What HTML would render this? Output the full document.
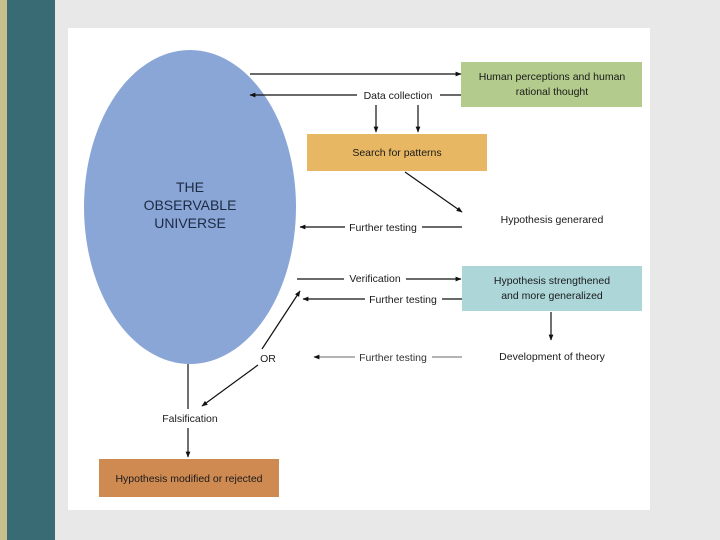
<!DOCTYPE html>
<html><head><meta charset="utf-8"><style>
html,body{margin:0;padding:0;width:720px;height:540px;overflow:hidden;background:#e8e8e8}
svg{display:block}
text{font-family:"Liberation Sans",sans-serif;font-size:10.5px;fill:#1a1a1a}
</style></head><body>
<svg width="720" height="540" viewBox="0 0 720 540" xmlns="http://www.w3.org/2000/svg">
<defs>
<marker id="a" viewBox="0 0 10 10" refX="9" refY="5" markerWidth="8" markerHeight="6" orient="auto" markerUnits="userSpaceOnUse"><path d="M0,1 L10,5 L0,9 Z" fill="#111"/></marker>
</defs>
<rect x="0" y="0" width="720" height="540" fill="#e8e8e8"/>
<rect x="0" y="0" width="7" height="540" fill="#c8c08c"/>
<rect x="7" y="0" width="48" height="540" fill="#386b74"/>
<rect x="68" y="28" width="582" height="482" fill="#fff"/>
<ellipse cx="190" cy="207" rx="106" ry="157" fill="#8aa6d6"/>
<g font-size="14"><text x="190" y="192" text-anchor="middle" style="font-size:14px;fill:#1c2a44">THE</text>
<text x="190" y="210" text-anchor="middle" style="font-size:14px;fill:#1c2a44">OBSERVABLE</text>
<text x="190" y="228" text-anchor="middle" style="font-size:14px;fill:#1c2a44">UNIVERSE</text></g>
<rect x="461" y="62" width="181" height="45" fill="#b3cb8c"/>
<text x="552" y="80" text-anchor="middle">Human perceptions and human</text>
<text x="552" y="95" text-anchor="middle">rational thought</text>
<rect x="307" y="134" width="180" height="37" fill="#e8b764"/>
<text x="397" y="156" text-anchor="middle">Search for patterns</text>
<rect x="462" y="266" width="180" height="45" fill="#acd6d8"/>
<text x="552" y="284" text-anchor="middle">Hypothesis strengthened</text>
<text x="552" y="299" text-anchor="middle">and more generalized</text>
<rect x="99" y="459" width="180" height="38" fill="#cf8a52"/>
<text x="189" y="482" text-anchor="middle">Hypothesis modified or rejected</text>
<g stroke="#111" stroke-width="1.2" fill="none">
<line x1="250" y1="74" x2="461" y2="74" marker-end="url(#a)"/>
<line x1="461" y1="95" x2="440" y2="95"/><line x1="357" y1="95" x2="250" y2="95" marker-end="url(#a)"/>
<line x1="376" y1="105" x2="376" y2="132" marker-end="url(#a)"/>
<line x1="418" y1="105" x2="418" y2="132" marker-end="url(#a)"/>
<line x1="405" y1="172" x2="462" y2="212" marker-end="url(#a)"/>
<line x1="462" y1="227" x2="422" y2="227"/><line x1="345" y1="227" x2="300" y2="227" marker-end="url(#a)"/>
<line x1="297" y1="279" x2="344" y2="279"/><line x1="406" y1="279" x2="461" y2="279" marker-end="url(#a)"/>
<line x1="462" y1="299" x2="442" y2="299"/><line x1="365" y1="299" x2="303" y2="299" marker-end="url(#a)"/>
<line x1="551" y1="312" x2="551" y2="340" marker-end="url(#a)"/>
<line x1="262" y1="349" x2="300" y2="291" marker-end="url(#a)"/>
<line x1="258" y1="365" x2="202" y2="406" marker-end="url(#a)"/>
<line x1="188" y1="364" x2="188" y2="409"/>
<line x1="188" y1="428" x2="188" y2="457" marker-end="url(#a)"/>
</g>
<g stroke="#888" stroke-width="1.2">
<line x1="462" y1="357" x2="432" y2="357"/><line x1="355" y1="357" x2="314" y2="357" marker-end="url(#a)"/>
</g>
<text x="398" y="99" text-anchor="middle">Data collection</text>
<text x="552" y="223" text-anchor="middle">Hypothesis generared</text>
<text x="383" y="231" text-anchor="middle">Further testing</text>
<text x="375" y="282" text-anchor="middle">Verification</text>
<text x="403" y="303" text-anchor="middle">Further testing</text>
<text x="552" y="360" text-anchor="middle">Development of theory</text>
<text x="393" y="361" text-anchor="middle" style="fill:#333">Further testing</text>
<text x="268" y="362" text-anchor="middle">OR</text>
<text x="190" y="422" text-anchor="middle">Falsification</text>
</svg>
</body></html>
